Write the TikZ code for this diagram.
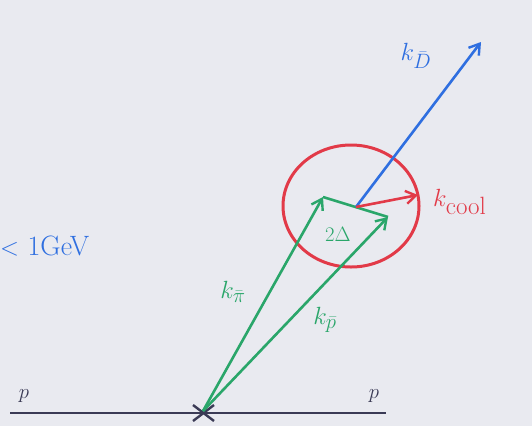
\documentclass[tikz,border=0pt]{standalone}
\usetikzlibrary{shapes.geometric,arrows.meta}
\definecolor{bg}{HTML}{E9EAF0}
\definecolor{hblue}{HTML}{2F6FE0}
\definecolor{hred}{HTML}{E23A48}
\definecolor{hgreen}{HTML}{2AA66A}
\definecolor{hdark}{HTML}{3A3A55}
\tikzset{
  vec/.style={line width=2.6pt,-{Straight Barb[length=10pt,width=13pt,line width=2.4pt]}},
  lbl/.style={inner sep=0pt,font=\fontsize{28}{30}\selectfont},
  lbls/.style={inner sep=0pt,font=\fontsize{22}{24}\selectfont},
}
\begin{document}
\begin{tikzpicture}[x=1pt,y=-1pt]
\fill[bg] (0,0) rectangle (532,426);
\useasboundingbox (0,0) rectangle (532,426);
% beam line
\coordinate (L1) at (10,413);
\coordinate (L2) at (386,413);
\draw[hdark,line width=2.4pt] (L1) -- (L2);
\coordinate (X1) at (193,405); \coordinate (X2) at (214,421);
\coordinate (X3) at (193,421); \coordinate (X4) at (214,405);
\draw[hdark,line width=2.4pt] (X1) -- (X2) (X3) -- (X4);
\node[lbls,hdark] (p1) at (24,396) {$p$};
\node[lbls,hdark] (p2) at (374,396) {$p$};
% points
\coordinate (O) at (203,411);
\coordinate (A) at (323,197);
\coordinate (B) at (388,217);
\coordinate (C) at (356,207);
\coordinate (D) at (481,42);
\coordinate (E) at (418,195);
% circle
\node[ellipse,draw=hred,line width=3pt,minimum width=136pt,minimum height=122pt] (circ) at (351,206) {};
% green
\draw[hgreen,vec] (O) -- (A);
\draw[hgreen,vec] (O) -- (B);
\draw[hgreen,line width=2.6pt] (A) -- (B);
\node[lbls,hgreen] (delta) at (338,234) {$2\Delta$};
\node[lbl,hgreen] (kpi) at (233,292) {$k_{\bar\pi}$};
\node[lbl,hgreen] (kp) at (325,320) {$k_{\bar p}$};
% blue
\draw[hblue,vec] (C) -- (D);
\node[lbl,hblue] (kD) at (416,56) {$k_{\bar D}$};
% red
\draw[hred,vec] (C) -- (E);
\node[lbl,hred,anchor=west] (kc) at (433,202) {$k_{\hbox{\fontsize{25}{25}\selectfont cool}}$};
% left text
\node[lbl,hblue,anchor=west] (gev) at (0,246) {$<$ 1GeV};
\end{tikzpicture}
\end{document}
